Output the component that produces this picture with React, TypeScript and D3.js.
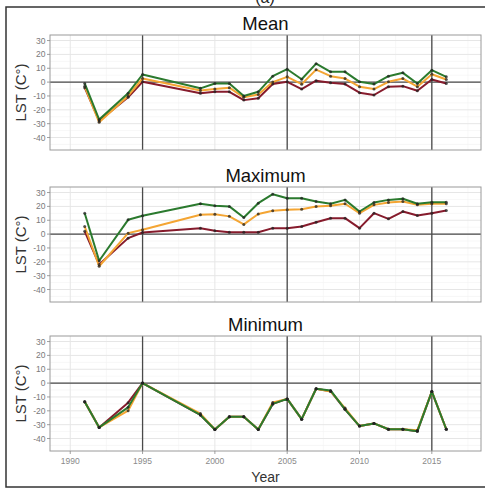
import React from "react";
import * as d3 from "d3";

const years = [1991, 1992, 1994, 1995, 1999, 2000, 2001, 2002, 2003, 2004, 2005, 2006, 2007, 2008, 2009, 2010, 2011, 2012, 2013, 2014, 2015, 2016];

const meanGreen = [-1, -27, -8, 5.5, -4.5, -1, -1, -10, -7, 4.3, 9.3, 2.1, 13.3, 7.4, 7.4, 0.2, -1.4, 4.3, 6.7, -1, 8.6, 3.8];
const meanOrange = [-3, -29, -10, 2.6, -6, -5, -4, -11, -9, 0, 3.8, -1.5, 9, 4.3, 2.6, -3.3, -5, 0.2, 2.6, -3.3, 5.7, 1.9];
const meanRed = [-4, -28, -11, 0.2, -8, -7, -7, -13, -11.6, -1.4, 0.2, -5, 1, -0.5, -1.4, -7.6, -9.3, -3.3, -2.9, -6.2, 1.9, -1];

const maxGreen = [15.1, -19.2, 10.3, 13.2, 21.9, 20.5, 20, 12, 22.3, 28.8, 25.9, 25.9, 23.5, 21.9, 24.7, 16.3, 22.8, 24.7, 25.5, 21.9, 23, 23];
const maxOrange = [5.5, -23.2, 0.7, 3.2, 14, 14.4, 12.8, 7, 14.5, 16.8, 17.6, 18, 20, 20.5, 21.9, 15.1, 21.1, 22.8, 23.5, 21.1, 21.9, 21.9];
const maxRed = [2, -22, -2.9, 1.2, 4.3, 2.4, 1.4, 1.4, 1.4, 4.3, 4.3, 5.5, 8.6, 11.5, 11.5, 4.3, 15.1, 11, 16.3, 13.4, 15.1, 17];

const minGreen = [-13.4, -32, -17.5, 0, -23, -33.5, -24.3, -24.3, -33.5, -15, -11.4, -26, -4.1, -5.3, -18.9, -31, -29.1, -33.3, -33.3, -34.7, -6.1, -33.3];
const minOrange = [-13.4, -32, -19.9, 0, -22, -33.5, -24.3, -24.3, -33.5, -14, -11.4, -26, -4.1, -6, -18, -31, -29.1, -33.3, -33.3, -34, -6.1, -33.3];
const minRed = [-13.4, -32, -14.1, 0, -23, -33.5, -24.3, -24.3, -33.5, -15, -11.4, -26, -4.1, -5.8, -18.9, -31, -29.1, -33.3, -33.3, -34.7, -6.1, -33.3];

const panelTitles = ["Mean", "Maximum", "Minimum"];
const yTicks = [30, 20, 10, 0, -10, -20, -30, -40];
const yMinor = [35, 25, 15, 5, -5, -15, -25, -35, -45];
const xTicks = [1990, 1995, 2000, 2005, 2010, 2015];
const xMinor = [1992.5, 1997.5, 2002.5, 2007.5, 2012.5, 2017.5];
const vLines = [1995, 2005, 2015];

const GREEN = "#2b7a2e";
const ORANGE = "#f4a533";
const RED = "#861b2c";

const panels = [
  { title: panelTitles[0], top: 35, series: [meanRed, meanOrange, meanGreen] },
  { title: panelTitles[1], top: 187, series: [maxRed, maxOrange, maxGreen] },
  { title: panelTitles[2], top: 336, series: [minRed, minOrange, minGreen] },
];
const colors = [RED, ORANGE, GREEN];

const L = 50, R = 481, H = 115;
const font = "'Liberation Sans', Arial, sans-serif";

export default function App() {
  const x = d3.scaleLinear().domain([1988.6, 2018.4]).range([L, R]);
  return (
    <div style={{ position: "absolute", left: 0, top: 0 }}>
      <svg width={485} height={489} style={{ display: "block", background: "#fff" }}>
        <rect x={6} y={7} width={490} height={480} fill="#fff" stroke="#333" strokeWidth={1.5} />
        <text x={265} y={3} textAnchor="middle" fontFamily={font} fontSize={16} fill="#222">(a)</text>
        {panels.map((p, pi) => {
          const y = d3.scaleLinear().domain([-49, 34]).range([p.top + H, p.top]);
          const line = d3.line<number>().x((_, i) => x(years[i])).y((v) => y(v));
          return (
            <g key={pi}>
              <text x={(L + R) / 2} y={p.top - 5.5} textAnchor="middle" fontFamily={font} fontSize={18.5} fill="#111">{p.title}</text>
              <rect x={L} y={p.top} width={R - L} height={H} fill="#fff" />
              {yMinor.filter((t) => y(t) > p.top && y(t) < p.top + H).map((t) => (
                <line key={"ym" + t} x1={L} x2={R} y1={y(t)} y2={y(t)} stroke="#f2f2f2" strokeWidth={0.6} />
              ))}
              {xMinor.map((t) => (
                <line key={"xm" + t} x1={x(t)} x2={x(t)} y1={p.top} y2={p.top + H} stroke="#f2f2f2" strokeWidth={0.6} />
              ))}
              {yTicks.map((t) => (
                <line key={"yg" + t} x1={L} x2={R} y1={y(t)} y2={y(t)} stroke="#e6e6e6" strokeWidth={1} />
              ))}
              {xTicks.map((t) => (
                <line key={"xg" + t} x1={x(t)} x2={x(t)} y1={p.top} y2={p.top + H} stroke="#e6e6e6" strokeWidth={1} />
              ))}
              <line x1={L} x2={R} y1={y(0)} y2={y(0)} stroke="#4a4a4a" strokeWidth={1.3} />
              {vLines.map((t) => (
                <line key={"vl" + t} x1={x(t)} x2={x(t)} y1={p.top} y2={p.top + H} stroke="#4a4a4a" strokeWidth={1.3} />
              ))}
              {p.series.map((s, si) => (
                <path key={"s" + si} d={line(s) || ""} fill="none" stroke={colors[si]} strokeWidth={2} strokeLinejoin="round" />
              ))}
              {p.series.map((s, si) =>
                s.map((v, i) => (
                  <circle key={"c" + si + "-" + i} cx={x(years[i])} cy={y(v)} r={1.5} fill="#222" fillOpacity={0.75} />
                ))
              )}
              <rect x={L} y={p.top} width={R - L} height={H} fill="none" stroke="#9a9a9a" strokeWidth={1} />
              {yTicks.map((t) => (
                <g key={"yt" + t}>
                  <line x1={L - 3} x2={L} y1={y(t)} y2={y(t)} stroke="#888" strokeWidth={0.8} />
                  <text x={L - 4.5} y={y(t) + 3} textAnchor="end" fontFamily={font} fontSize={8.5} fill="#7a7a7a">{t}</text>
                </g>
              ))}
              <text transform={`translate(26,${p.top + H / 2}) rotate(-90)`} textAnchor="middle" fontFamily={font} fontSize={15} fill="#333">LST (C°)</text>
              {pi === 2 && xTicks.map((t) => (
                <g key={"xt" + t}>
                  <line x1={x(t)} x2={x(t)} y1={p.top + H} y2={p.top + H + 3} stroke="#888" strokeWidth={0.8} />
                  <text x={x(t)} y={p.top + H + 12.5} textAnchor="middle" fontFamily={font} fontSize={8.5} fill="#8a8a8a">{t}</text>
                </g>
              ))}
            </g>
          );
        })}
        <text x={(L + R) / 2} y={482} textAnchor="middle" fontFamily={font} fontSize={14} fill="#333">Year</text>
      </svg>
    </div>
  );
}
